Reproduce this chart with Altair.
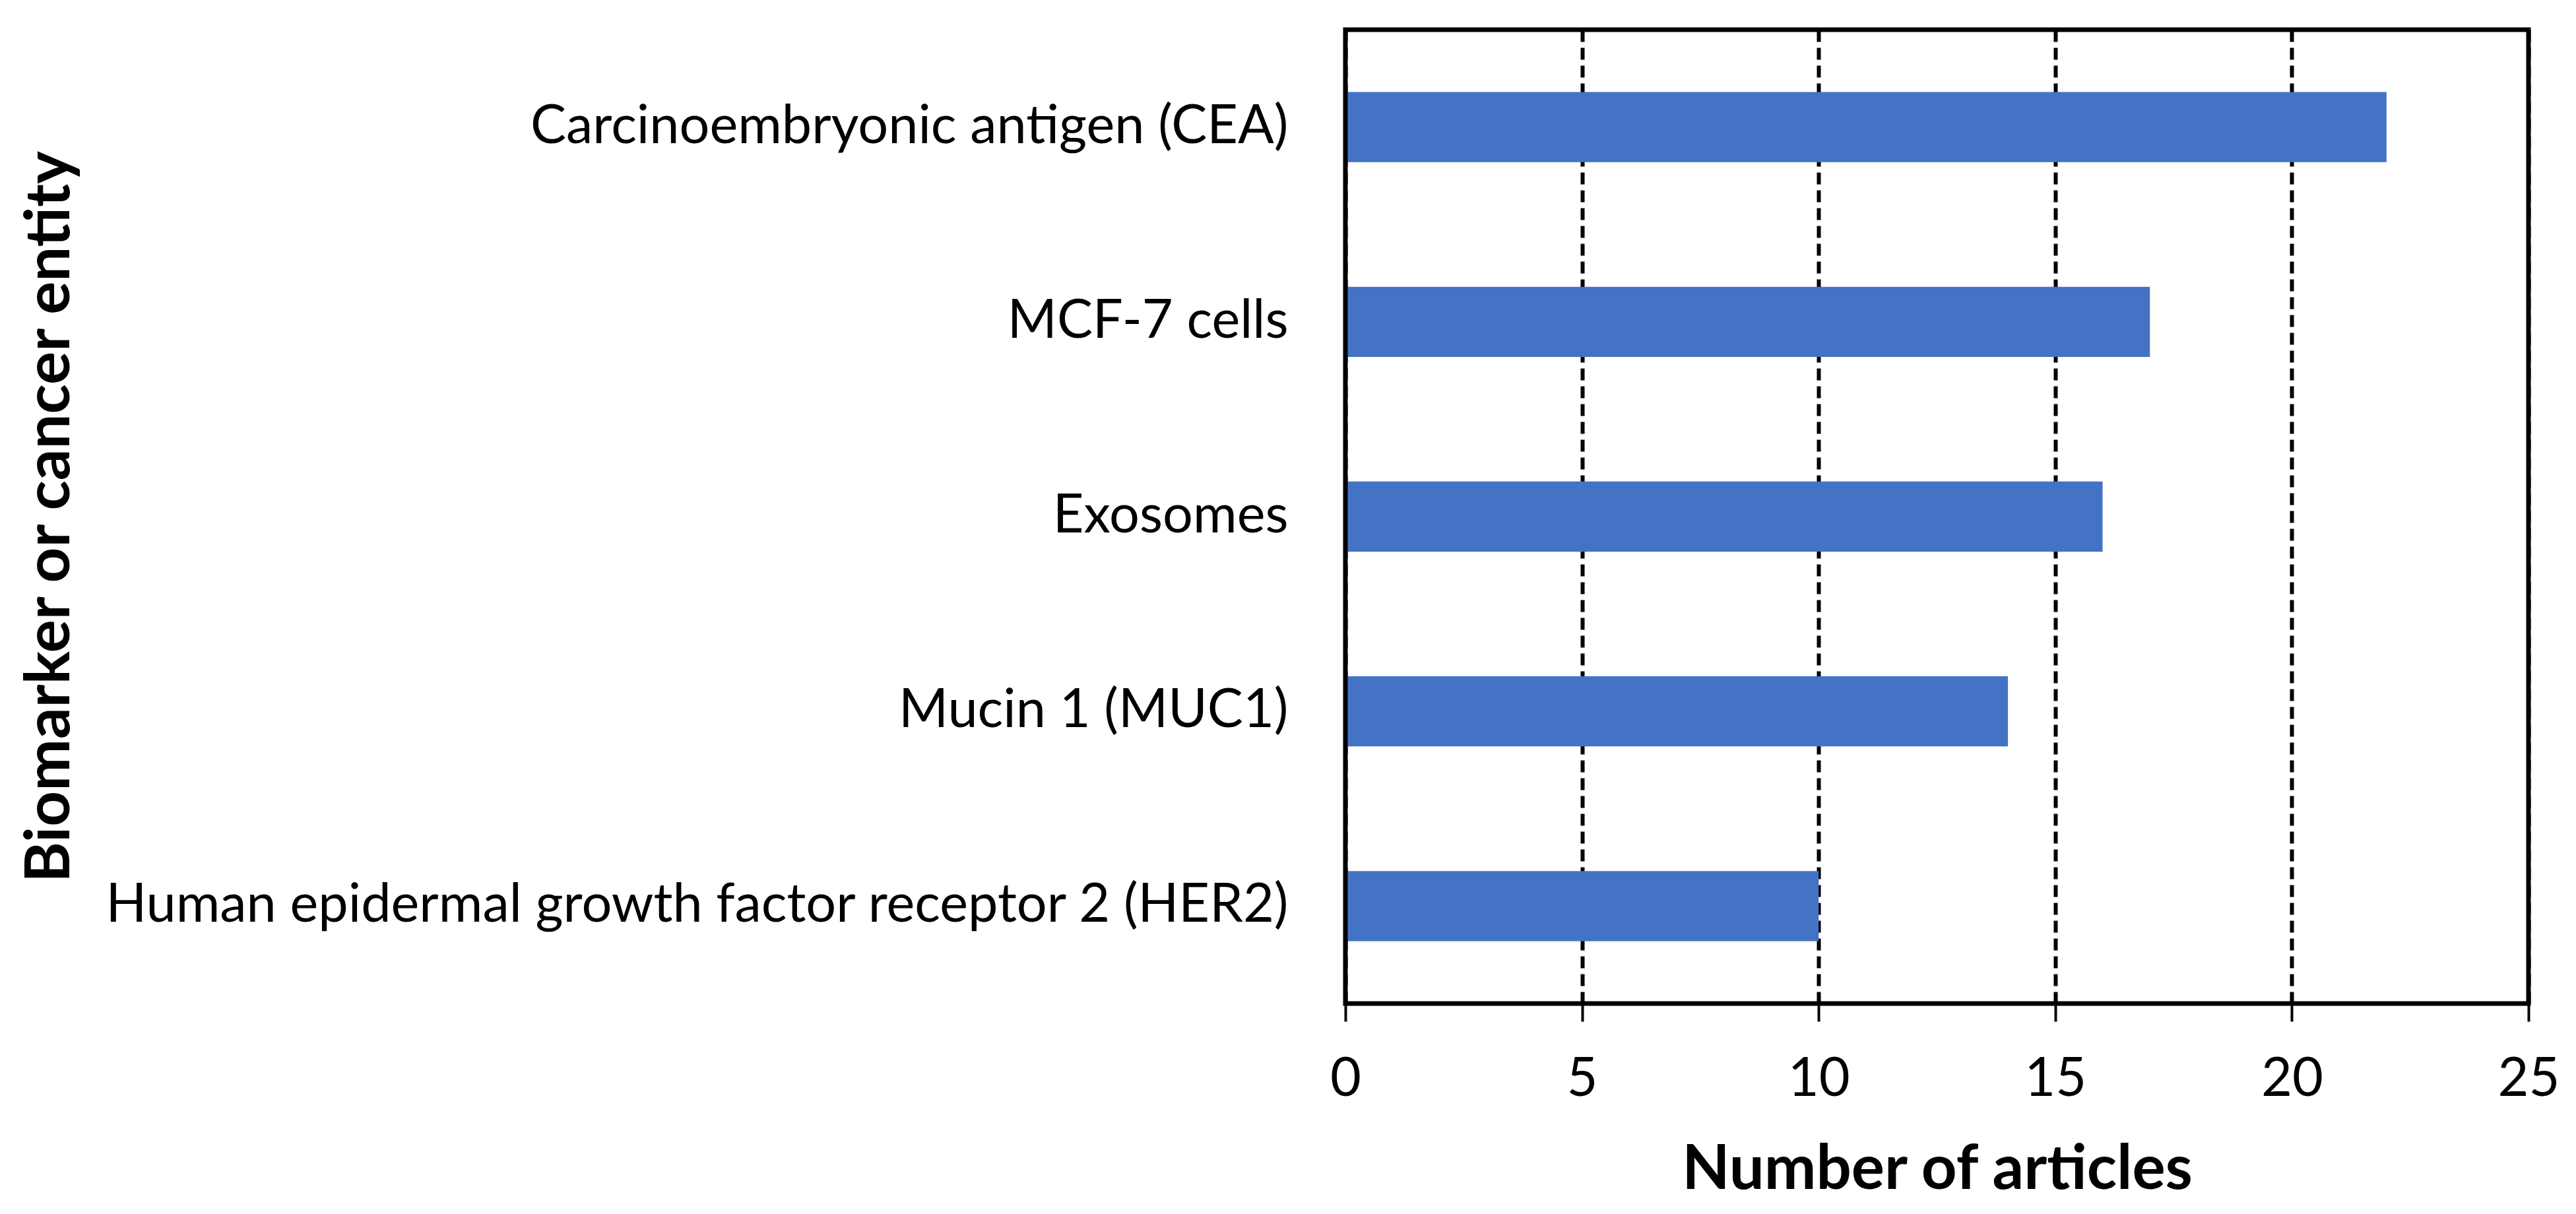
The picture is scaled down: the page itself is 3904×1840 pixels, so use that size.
import altair as alt
import pandas as pd

categories = [
    "Carcinoembryonic antigen (CEA)",
    "MCF-7 cells",
    "Exosomes",
    "Mucin 1 (MUC1)",
    "Human epidermal growth factor receptor 2 (HER2)",
]
articles = [22, 17, 16, 14, 10]
x_ticks = [0, 5, 10, 15, 20, 25]

df = pd.DataFrame({"category": categories, "articles": articles})

FONT = "Lato"
W, H = 1793, 1476

bars = (
    alt.Chart(df)
    .mark_bar(color="#4472C4")
    .encode(
        x=alt.X(
            "articles:Q",
            scale=alt.Scale(domain=[0, 25], nice=False),
            axis=alt.Axis(
                values=x_ticks,
                title="Number of articles",
                grid=True,
                gridColor="black",
                gridDash=[18, 9],
                gridWidth=6,
                gridOpacity=1,
                domain=False,
                ticks=True,
                tickColor="black",
                tickWidth=4,
                tickSize=27,
                labelFont=FONT,
                labelFontSize=81,
                labelColor="black",
                labelBaseline="alphabetic",
                labelPadding=112,
                labelFlush=False,
                titleFont=FONT,
                titleFontSize=94,
                titleFontWeight="bold",
                titleColor="black",
                titleBaseline="alphabetic",
                titleY=280,
            ),
        ),
        y=alt.Y(
            "category:N",
            sort=categories,
            scale=alt.Scale(paddingInner=0.64, paddingOuter=0.32),
            axis=alt.Axis(
                title="Biomarker or cancer entity",
                domain=False,
                ticks=False,
                grid=False,
                labelFont=FONT,
                labelFontSize=81,
                labelColor="black",
                labelPadding=87,
                labelLimit=0,
                titleFont=FONT,
                titleFontSize=94,
                titleFontWeight="bold",
                titleColor="black",
                titleAngle=-90,
                titleAlign="center",
                titleBaseline="middle",
                titleX=-1963,
                titleY=738,
            ),
        ),
    )
)

border = (
    alt.Chart(pd.DataFrame({"k": [0]}))
    .mark_rect(filled=False, stroke="black", strokeWidth=7)
    .encode(
        x=alt.value(0),
        x2=alt.value(W),
        y=alt.value(0),
        y2=alt.value(H),
    )
)

chart = (
    alt.layer(bars, border)
    .properties(
        width=W,
        height=H,
        autosize=alt.AutoSizeParams(type="none"),
        padding={"left": 2031, "top": 37, "right": 60, "bottom": 318},
    )
    .configure_view(stroke=None)
    .configure(background="white")
)

chart.save("out.html", embed_options={"renderer": "svg", "actions": False})
